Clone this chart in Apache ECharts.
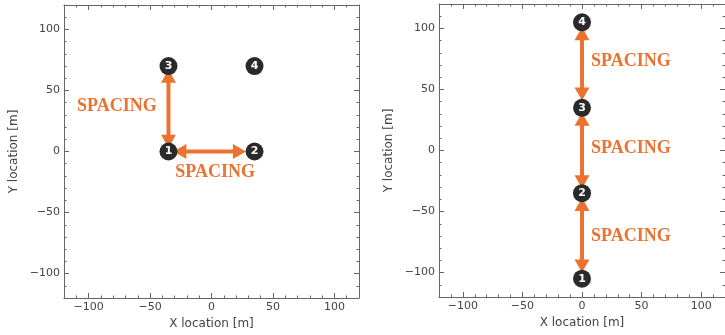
<!doctype html>
<html>
<head>
<meta charset="UTF-8">
<title>Spacing layouts</title>
<script src="https://cdn.jsdelivr.net/npm/echarts@6/dist/echarts.min.js"></script>
<style>
  html, body { margin: 0; padding: 0; background: #fff; }
  #main { width: 725px; height: 335px; }
</style>
</head>
<body>
<div id="main"></div>
<script>
// turbine positions, left layout (square) and right layout (line)
var pointsLeft  = [[-35, 0], [35, 0], [-35, 70], [35, 70]];
var pointsRight = [[0, -105], [0, -35], [0, 35], [0, 105]];
var pointNames  = ['1', '2', '3', '4'];

// double arrows [x1, y1, x2, y2]
var arrowsLeft  = [[-35, 3, -35, 67], [-31, 0, 28, 0]];
var arrowsRight = [[0, 101, 0, 41], [0, 31, 0, -31], [0, -39, 0, -100]];

// "SPACING" labels [x, y]
var labelsLeft  = [[-77, 37], [3, -17]];
var labelsRight = [[41, 73], [41, 2], [41, -70]];
var labelText = 'SPACING';

// axis ticks
var majorTicks = [-100, -50, 0, 50, 100];
var axisRange = [-120, 120];

var orange = '#EC7230';
var frame = '#666';

var myChart = echarts.init(document.getElementById('main'), null, {renderer: 'canvas'});

// main axis: frame line, major ticks, labels
function majorAxis(grid, pos, showLabel, name, gap) {
    return {
        gridIndex: grid, type: 'value', position: pos,
        min: axisRange[0], max: axisRange[1],
        name: showLabel ? name : '',
        nameLocation: 'middle', nameGap: gap,
        nameTextStyle: {fontFamily: 'DejaVu Sans', fontSize: 12, color: '#444'},
        axisLine: {show: true, onZero: false, lineStyle: {color: frame, width: 1}},
        axisTick: {show: true, inside: true, length: 5, customValues: majorTicks, lineStyle: {color: frame}},
        axisLabel: {show: showLabel, customValues: majorTicks, fontFamily: 'DejaVu Sans', fontSize: 11,
            color: '#444', margin: 4,
            formatter: function (v) { return String(v).replace('-', '\u2212'); }},
        splitLine: {show: false}
    };
}
// second axis on the same side: only the short minor ticks
function minorAxis(grid, pos) {
    return {
        gridIndex: grid, type: 'value', position: pos,
        min: axisRange[0], max: axisRange[1], interval: 10,
        axisLine: {show: false, onZero: false},
        axisTick: {show: true, inside: true, length: 2.5, lineStyle: {color: frame}},
        axisLabel: {show: false},
        splitLine: {show: false}
    };
}

function arrowSeries(xi, yi, arrows) {
    return {
        type: 'custom', xAxisIndex: xi, yAxisIndex: yi, z: 3,
        data: arrows,
        renderItem: function (params, api) {
            var a = api.coord([api.value(0), api.value(1)]);
            var b = api.coord([api.value(2), api.value(3)]);
            var dx = b[0] - a[0], dy = b[1] - a[1];
            var len = Math.sqrt(dx * dx + dy * dy);
            var ux = dx / len, uy = dy / len, px = -uy, py = ux;
            var hl = 13, hw = 7.5;
            var head = function (tip, dir) {
                var bx = tip[0] - dir * ux * hl, by = tip[1] - dir * uy * hl;
                return {type: 'polygon', shape: {points: [tip, [bx + px * hw, by + py * hw], [bx - px * hw, by - py * hw]]},
                    style: {fill: orange}};
            };
            return {type: 'group', children: [
                {type: 'line', shape: {x1: a[0] + ux * hl * 0.8, y1: a[1] + uy * hl * 0.8, x2: b[0] - ux * hl * 0.8, y2: b[1] - uy * hl * 0.8},
                    style: {stroke: orange, lineWidth: 4}},
                head(a, -1), head(b, 1)
            ]};
        }
    };
}

function textSeries(xi, yi, labels) {
    return {
        type: 'custom', xAxisIndex: xi, yAxisIndex: yi, z: 5,
        data: labels,
        renderItem: function (params, api) {
            var p = api.coord([api.value(0), api.value(1)]);
            return {type: 'text', x: p[0], y: p[1], style: {
                text: labelText, fill: orange, align: 'center', verticalAlign: 'middle',
                font: 'bold 18px "Liberation Serif", "Times New Roman", serif'}};
        }
    };
}

function pointSeries(xi, yi, pts) {
    return {
        type: 'scatter', xAxisIndex: xi, yAxisIndex: yi, z: 4,
        symbolSize: 18,
        itemStyle: {color: '#2a2a2a', opacity: 1},
        label: {show: true, position: 'inside', color: '#fff', fontWeight: 'bold',
            fontFamily: 'DejaVu Sans', fontSize: 11,
            formatter: function (p) { return pointNames[p.dataIndex]; }},
        data: pts
    };
}

var xAxes = [], yAxes = [];
[0, 1].forEach(function (g) {
    xAxes.push(majorAxis(g, 'bottom', true, 'X location [m]', 20));  // index 4g
    xAxes.push(majorAxis(g, 'top', false, '', 0));
    xAxes.push(minorAxis(g, 'bottom'));
    xAxes.push(minorAxis(g, 'top'));
    yAxes.push(majorAxis(g, 'left', true, 'Y location [m]', 44));
    yAxes.push(majorAxis(g, 'right', false, '', 0));
    yAxes.push(minorAxis(g, 'left'));
    yAxes.push(minorAxis(g, 'right'));
});

var option = {
    animation: false,
    grid: [
        {left: 64, top: 5, width: 295, height: 294},
        {left: 439, top: 4, width: 294, height: 293}
    ],
    xAxis: xAxes,
    yAxis: yAxes,
    series: [
        arrowSeries(0, 0, arrowsLeft),
        pointSeries(0, 0, pointsLeft),
        textSeries(0, 0, labelsLeft),
        arrowSeries(4, 4, arrowsRight),
        pointSeries(4, 4, pointsRight),
        textSeries(4, 4, labelsRight)
    ]
};
myChart.setOption(option);
</script>
</body>
</html>
